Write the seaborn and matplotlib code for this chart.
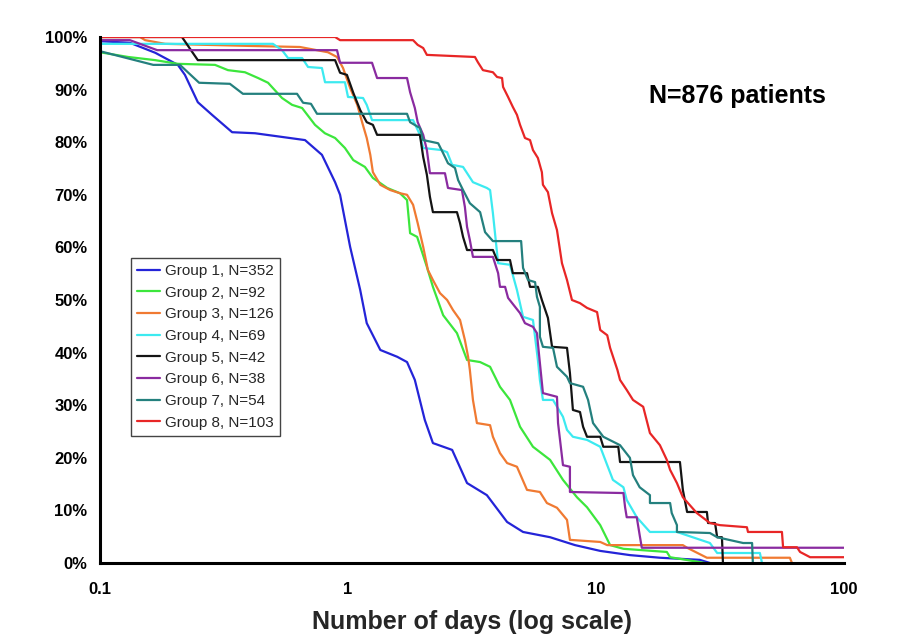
import numpy as np
import pandas as pd
import matplotlib
matplotlib.use("Agg")
import matplotlib.pyplot as plt
import seaborn as sns
from matplotlib.ticker import PercentFormatter, FixedLocator, NullLocator

# ---------------- data ----------------
labels = ["Group 1, N=352", "Group 2, N=92", "Group 3, N=126", "Group 4, N=69",
          "Group 5, N=42", "Group 6, N=38", "Group 7, N=54", "Group 8, N=103"]
colors = ["#2424D8", "#3CE63C", "#F07A32", "#3CEAF0", "#141414", "#8A2BA0", "#24807E", "#E82626"]

g1_x = [0.1, 0.132, 0.167, 0.206, 0.220, 0.248, 0.283, 0.341, 0.422, 0.542, 0.671, 0.785, 0.887, 0.929,
        1.02, 1.12, 1.19, 1.35, 1.58, 1.73, 1.86, 2.04, 2.20, 2.63, 3.02, 3.63, 4.38, 5.08, 6.53, 8.23,
        10.4, 13.7, 18.1, 26.2, 28.8]
g1_y = [99.2, 98.9, 97.0, 94.7, 92.8, 87.6, 85.2, 81.9, 81.7, 81.0, 80.4, 77.6, 72.4, 70.0,
        60.1, 51.9, 45.6, 40.5, 39.2, 38.2, 34.8, 27.2, 22.8, 21.5, 15.2, 12.9, 7.8, 5.9, 4.9, 3.4,
        2.3, 1.5, 1.0, 0.6, 0.0]

g2_x = [0.1, 0.130, 0.167, 0.206, 0.291, 0.328, 0.384, 0.434, 0.476, 0.542, 0.595, 0.653, 0.736, 0.807,
        0.887, 0.972, 1.05, 1.17, 1.26, 1.44, 1.62, 1.73, 1.78, 1.90, 2.08, 2.20, 2.42, 2.75, 3.02,
        3.41, 3.74, 4.10, 4.50, 4.94, 5.57, 6.53, 7.36, 8.38, 9.20, 10.4, 11.4, 12.9, 19.3, 19.9, 27.5]
g2_y = [97.1, 96.2, 95.6, 94.9, 94.7, 93.7, 93.3, 92.2, 91.3, 88.4, 87.1, 86.5, 83.3, 81.7,
        80.8, 78.9, 76.6, 75.3, 73.2, 71.3, 70.3, 69.0, 62.7, 62.0, 56.3, 52.5, 47.1, 43.7, 38.6,
        38.2, 37.3, 33.5, 31.0, 25.9, 22.1, 19.6, 15.8, 12.5, 10.6, 7.2, 3.4, 2.7, 2.1, 1.1, 0.0]

g3_x = [0.1, 0.145, 0.152, 0.183, 0.403, 0.640, 0.830, 0.903, 0.955, 1.02, 1.09, 1.14, 1.19, 1.23,
        1.26, 1.35, 1.48, 1.62, 1.73, 1.83, 1.91, 2.01, 2.10, 2.20, 2.35, 2.51, 2.65, 2.83, 2.96,
        3.05, 3.10, 3.19, 3.31, 3.74, 3.84, 4.10, 4.38, 4.80, 5.27, 5.94, 6.34, 6.96, 7.64, 7.85,
        10.4, 11.1, 22.4, 23.3, 28.0, 60.5, 61.7]
g3_y = [100.0, 100.0, 99.4, 98.7, 98.3, 98.1, 97.1, 96.2, 94.1, 90.3, 87.1, 83.8, 80.8, 77.6,
        74.3, 71.9, 70.9, 70.3, 70.0, 68.1, 64.6, 60.1, 55.7, 53.8, 51.3, 50.0, 48.1, 46.2, 42.4,
        39.2, 36.7, 31.0, 26.6, 26.2, 24.0, 20.9, 19.0, 18.3, 13.9, 13.5, 11.4, 10.5, 8.2, 4.4,
        4.0, 3.4, 3.4, 2.9, 1.0, 1.0, 0.0]

g4_x = [0.1, 0.498, 0.542, 0.573, 0.653, 0.690, 0.785, 0.808, 0.972, 1.0, 1.15, 1.19, 1.25, 1.83,
        1.95, 2.01, 2.39, 2.51, 2.63, 2.91, 3.19, 3.63, 3.74, 3.84, 4.03, 4.50, 4.80, 5.08, 5.57,
        5.83, 5.94, 6.11, 6.71, 7.36, 7.64, 8.07, 9.20, 10.4, 11.1, 11.7, 12.9, 13.3, 14.6, 16.5,
        21.2, 28.8, 30.8, 45.8, 46.7]
g4_y = [98.7, 98.7, 97.5, 96.0, 96.0, 94.3, 94.1, 91.4, 91.4, 88.6, 88.4, 87.1, 84.2, 84.2,
        81.4, 78.9, 78.5, 78.1, 75.7, 75.3, 72.4, 71.3, 70.9, 66.5, 57.0, 56.7, 51.9, 46.8, 46.2,
        38.6, 34.8, 31.0, 31.0, 27.8, 25.3, 24.0, 23.4, 22.1, 18.6, 15.8, 14.4, 12.0, 8.7, 5.9,
        5.9, 3.8, 1.9, 1.9, 0.0]

g5_x = [0.1, 0.214, 0.248, 0.887, 0.929, 0.99, 1.05, 1.12, 1.19, 1.26, 1.31, 1.95, 2.01, 2.08,
        2.14, 2.20, 2.75, 2.83, 2.91, 3.02, 3.84, 3.99, 4.50, 4.62, 5.27, 5.42, 5.83, 6.05, 6.40,
        6.65, 7.64, 7.85, 8.07, 8.62, 8.87, 9.20, 10.4, 10.7, 12.3, 12.5, 21.8, 22.4, 23.3, 28.0,
        28.3, 30.2, 30.8, 32.2, 32.5]
g5_y = [100.0, 100.0, 95.6, 95.6, 93.2, 92.8, 89.4, 86.1, 83.8, 83.3, 81.4, 81.4, 77.2, 73.8,
        69.6, 66.7, 66.7, 64.6, 62.0, 59.5, 59.5, 57.6, 57.6, 55.1, 55.1, 52.5, 52.5, 50.0, 46.6,
        41.1, 40.9, 36.1, 29.1, 28.7, 25.9, 24.0, 24.0, 22.1, 22.1, 19.2, 19.2, 13.9, 9.7, 9.7,
        7.6, 7.6, 4.9, 4.9, 0.0]

g6_x = [0.1, 0.132, 0.170, 0.903, 0.929, 1.25, 1.31, 1.73, 1.78, 1.86, 1.91, 2.01, 2.08, 2.14,
        2.46, 2.53, 2.88, 2.96, 3.02, 3.10, 3.19, 3.84, 4.03, 4.10, 4.30, 4.42, 4.94, 5.17, 5.57,
        5.78, 5.83, 6.11, 6.96, 7.03, 7.36, 7.85, 7.85, 12.9, 13.1, 13.3, 14.6, 15.0, 15.3, 100.0]
g6_y = [99.4, 99.4, 97.5, 97.5, 95.1, 95.1, 92.2, 92.2, 89.5, 86.5, 83.8, 81.4, 78.5, 74.1,
        74.1, 71.3, 70.9, 67.7, 63.9, 61.4, 58.2, 58.2, 55.1, 52.5, 52.5, 50.4, 47.5, 45.6, 44.9,
        43.7, 41.8, 32.3, 31.6, 26.6, 18.6, 18.3, 13.5, 13.3, 10.6, 8.7, 8.7, 5.3, 2.9, 2.9]

g7_x = [0.1, 0.164, 0.210, 0.251, 0.334, 0.377, 0.623, 0.659, 0.709, 0.750, 1.73, 1.78, 1.95, 2.01,
        2.31, 2.42, 2.53, 2.70, 2.78, 2.91, 3.10, 3.41, 3.57, 3.84, 4.99, 5.08, 5.32, 5.68, 5.78,
        5.94, 5.94, 6.11, 6.71, 6.96, 7.64, 7.85, 8.87, 9.29, 9.73, 10.7, 12.5, 13.7, 14.1, 15.0,
        16.5, 16.5, 19.9, 20.2, 21.2, 21.2, 28.8, 30.8, 39.2, 42.6, 42.9]
g7_y = [97.3, 94.7, 94.7, 91.3, 91.1, 89.2, 89.2, 87.5, 87.3, 85.4, 85.4, 83.8, 82.7, 80.4,
        79.8, 77.9, 76.0, 75.1, 72.8, 70.9, 68.4, 66.7, 62.9, 61.2, 61.2, 56.1, 53.8, 53.4, 50.6,
        48.7, 43.0, 41.1, 40.9, 37.3, 35.4, 34.2, 33.5, 31.0, 26.6, 24.0, 22.4, 20.0, 16.7, 14.4,
        12.9, 11.4, 11.4, 9.5, 7.2, 5.9, 5.7, 4.9, 3.8, 3.8, 0.0]

g8_x = [0.1, 0.887, 0.929, 1.83, 1.91, 2.01, 2.08, 3.25, 3.34, 3.50, 3.84, 3.99, 4.18, 4.22,
        4.42, 4.62, 4.80, 4.94, 5.17, 5.42, 5.57, 5.83, 6.05, 6.11, 6.40, 6.65, 6.96, 7.29, 7.64,
        8.00, 8.62, 9.20, 10.1, 10.4, 11.1, 11.4, 12.2, 12.5, 13.3, 14.1, 15.5, 16.5, 18.1, 19.3,
        19.9, 21.2, 22.4, 25.5, 28.8, 31.6, 40.6, 41.0, 56.2, 56.8, 64.6, 66.5, 73.0, 100.0]
g8_y = [100.0, 100.0, 99.4, 99.4, 98.5, 97.9, 96.6, 96.2, 95.2, 93.7, 93.3, 92.4, 92.2, 90.5,
        88.6, 86.7, 85.2, 83.3, 80.8, 80.4, 78.5, 77.0, 74.3, 71.9, 70.5, 66.5, 63.3, 57.0, 53.8,
        50.0, 49.4, 48.5, 47.7, 44.3, 43.3, 40.9, 36.7, 34.8, 32.9, 31.0, 29.7, 24.7, 22.4, 19.6,
        17.7, 15.2, 12.5, 9.5, 7.6, 7.2, 6.8, 5.9, 5.9, 3.0, 3.0, 2.1, 1.1, 1.1]

xs = [g1_x, g2_x, g3_x, g4_x, g5_x, g6_x, g7_x, g8_x]
ys = [g1_y, g2_y, g3_y, g4_y, g5_y, g6_y, g7_y, g8_y]

x_ticks = [0.1, 1, 10, 100]
x_tick_labels = ["0.1", "1", "10", "100"]
y_ticks = [0, 10, 20, 30, 40, 50, 60, 70, 80, 90, 100]

# ---------------- build long table ----------------
frames = []
for lab, gx, gy in zip(labels, xs, ys):
    frames.append(pd.DataFrame({"days": gx, "pct": gy, "group": lab, "order": np.arange(len(gx))}))
df = pd.concat(frames, ignore_index=True)

# ---------------- plot ----------------
sns.set_theme(style="white")
plt.rcParams["font.family"] = ["Liberation Sans", "DejaVu Sans"]

fig = plt.figure(figsize=(9.23, 6.37), dpi=100)
ax = fig.add_axes([100 / 923, 1 - 563 / 637, 744 / 923, 526 / 637])

sns.lineplot(data=df, x="days", y="pct", hue="group", hue_order=labels,
             palette=dict(zip(labels, colors)), estimator=None, sort=False,
             linewidth=1.6, ax=ax, legend=False)

ax.set_xscale("log")
ax.set_xlim(0.1, 100)
ax.set_ylim(0, 100)
ax.xaxis.set_major_locator(FixedLocator(x_ticks))
ax.xaxis.set_minor_locator(NullLocator())
ax.set_xticklabels(x_tick_labels)
ax.set_yticks(y_ticks)
ax.yaxis.set_major_formatter(PercentFormatter(100, decimals=0))

for s in ["top", "right"]:
    ax.spines[s].set_visible(False)
for s in ["left", "bottom"]:
    ax.spines[s].set_color("black")
    ax.spines[s].set_linewidth(2.2)
    ax.spines[s].set_zorder(5)
ax.tick_params(axis="both", which="major", direction="out", length=5, width=1.5,
               color="black", labelsize=12, labelcolor="black", pad=4)
ax.tick_params(axis="x", pad=9)
for t in ax.get_xticklabels() + ax.get_yticklabels():
    t.set_fontweight("bold")

ax.set_xlabel("Number of days (log scale)", fontsize=18, fontweight="bold", labelpad=9)
ax.set_ylabel("")
ax.grid(False)

ax.text(0.857, 0.887, "N=876 patients", transform=ax.transAxes, ha="center", va="center",
        fontsize=18, fontweight="bold", color="black")

handles = [plt.Line2D([0], [0], color=c, lw=1.6) for c in colors]
leg = ax.legend(handles, labels, loc="upper left", bbox_to_anchor=(0.042, 0.58),
                borderaxespad=0, fontsize=11, frameon=True, fancybox=False,
                handlelength=1.5, handletextpad=0.3, labelspacing=0.5,
                borderpad=0.4, framealpha=1)
leg.get_frame().set_edgecolor("#444444")
leg.get_frame().set_linewidth(1.0)

fig.savefig("out.png", dpi=100, facecolor="white")
